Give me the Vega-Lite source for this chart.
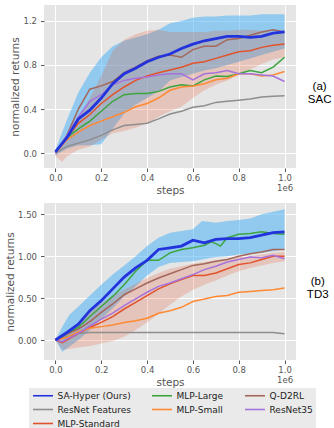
{
"$schema": "https://vega.github.io/schema/vega-lite/v6.json",
"padding": {"left": 5, "top": 5, "right": 0, "bottom": 0},
"background": "white",
"config": {
  "font": "DejaVu Sans",
  "view": {"fill": "#e5e5e5", "stroke": null},
  "axis": {"domain": false, "grid": true, "gridColor": "white", "gridWidth": 1, "tickColor": "#555555", "tickSize": 3.5, "labelColor": "#555555", "labelFontSize": 8.5, "titleColor": "#555555", "titleFontSize": 10.5, "titleFontWeight": "normal", "labelFont": "DejaVu Sans", "titleFont": "DejaVu Sans"},
  "title": {"font": "Liberation Sans", "fontSize": 11.5, "fontWeight": "normal", "color": "black"}
},
"datasets": {
"sac_lines": [
{"method":"SA-Hyper (Ours)","step":0,"value":0.01},{"method":"SA-Hyper (Ours)","step":50000,"value":0.14},{"method":"SA-Hyper (Ours)","step":100000,"value":0.31},{"method":"SA-Hyper (Ours)","step":150000,"value":0.39},{"method":"SA-Hyper (Ours)","step":200000,"value":0.50},{"method":"SA-Hyper (Ours)","step":250000,"value":0.63},{"method":"SA-Hyper (Ours)","step":300000,"value":0.72},{"method":"SA-Hyper (Ours)","step":350000,"value":0.77},{"method":"SA-Hyper (Ours)","step":400000,"value":0.83},{"method":"SA-Hyper (Ours)","step":450000,"value":0.87},{"method":"SA-Hyper (Ours)","step":500000,"value":0.90},{"method":"SA-Hyper (Ours)","step":550000,"value":0.95},{"method":"SA-Hyper (Ours)","step":600000,"value":0.99},{"method":"SA-Hyper (Ours)","step":650000,"value":1.02},{"method":"SA-Hyper (Ours)","step":700000,"value":1.04},{"method":"SA-Hyper (Ours)","step":750000,"value":1.06},{"method":"SA-Hyper (Ours)","step":800000,"value":1.06},{"method":"SA-Hyper (Ours)","step":850000,"value":1.05},{"method":"SA-Hyper (Ours)","step":900000,"value":1.06},{"method":"SA-Hyper (Ours)","step":950000,"value":1.09},{"method":"SA-Hyper (Ours)","step":1000000,"value":1.10},
{"method":"ResNet Features","step":0,"value":0.0},{"method":"ResNet Features","step":50000,"value":0.06},{"method":"ResNet Features","step":100000,"value":0.09},{"method":"ResNet Features","step":150000,"value":0.12},{"method":"ResNet Features","step":200000,"value":0.16},{"method":"ResNet Features","step":250000,"value":0.21},{"method":"ResNet Features","step":300000,"value":0.25},{"method":"ResNet Features","step":350000,"value":0.26},{"method":"ResNet Features","step":400000,"value":0.27},{"method":"ResNet Features","step":450000,"value":0.31},{"method":"ResNet Features","step":500000,"value":0.355},{"method":"ResNet Features","step":550000,"value":0.38},{"method":"ResNet Features","step":600000,"value":0.415},{"method":"ResNet Features","step":650000,"value":0.43},{"method":"ResNet Features","step":700000,"value":0.46},{"method":"ResNet Features","step":750000,"value":0.47},{"method":"ResNet Features","step":800000,"value":0.48},{"method":"ResNet Features","step":850000,"value":0.49},{"method":"ResNet Features","step":900000,"value":0.51},{"method":"ResNet Features","step":950000,"value":0.515},{"method":"ResNet Features","step":1000000,"value":0.52},
{"method":"MLP-Standard","step":0,"value":0.0},{"method":"MLP-Standard","step":50000,"value":0.14},{"method":"MLP-Standard","step":100000,"value":0.27},{"method":"MLP-Standard","step":150000,"value":0.35},{"method":"MLP-Standard","step":200000,"value":0.45},{"method":"MLP-Standard","step":250000,"value":0.53},{"method":"MLP-Standard","step":300000,"value":0.60},{"method":"MLP-Standard","step":350000,"value":0.66},{"method":"MLP-Standard","step":400000,"value":0.70},{"method":"MLP-Standard","step":450000,"value":0.73},{"method":"MLP-Standard","step":500000,"value":0.755},{"method":"MLP-Standard","step":550000,"value":0.78},{"method":"MLP-Standard","step":600000,"value":0.815},{"method":"MLP-Standard","step":650000,"value":0.83},{"method":"MLP-Standard","step":700000,"value":0.86},{"method":"MLP-Standard","step":750000,"value":0.89},{"method":"MLP-Standard","step":800000,"value":0.92},{"method":"MLP-Standard","step":850000,"value":0.93},{"method":"MLP-Standard","step":900000,"value":0.96},{"method":"MLP-Standard","step":950000,"value":0.98},{"method":"MLP-Standard","step":1000000,"value":0.99},
{"method":"MLP-Large","step":0,"value":0.0},{"method":"MLP-Large","step":50000,"value":0.14},{"method":"MLP-Large","step":100000,"value":0.22},{"method":"MLP-Large","step":150000,"value":0.29},{"method":"MLP-Large","step":200000,"value":0.38},{"method":"MLP-Large","step":250000,"value":0.47},{"method":"MLP-Large","step":300000,"value":0.53},{"method":"MLP-Large","step":350000,"value":0.54},{"method":"MLP-Large","step":400000,"value":0.54},{"method":"MLP-Large","step":450000,"value":0.56},{"method":"MLP-Large","step":500000,"value":0.60},{"method":"MLP-Large","step":550000,"value":0.62},{"method":"MLP-Large","step":600000,"value":0.61},{"method":"MLP-Large","step":650000,"value":0.665},{"method":"MLP-Large","step":700000,"value":0.70},{"method":"MLP-Large","step":750000,"value":0.695},{"method":"MLP-Large","step":800000,"value":0.72},{"method":"MLP-Large","step":850000,"value":0.75},{"method":"MLP-Large","step":900000,"value":0.73},{"method":"MLP-Large","step":950000,"value":0.78},{"method":"MLP-Large","step":1000000,"value":0.87},
{"method":"MLP-Small","step":0,"value":0.0},{"method":"MLP-Small","step":50000,"value":0.12},{"method":"MLP-Small","step":100000,"value":0.19},{"method":"MLP-Small","step":150000,"value":0.25},{"method":"MLP-Small","step":200000,"value":0.29},{"method":"MLP-Small","step":250000,"value":0.33},{"method":"MLP-Small","step":300000,"value":0.37},{"method":"MLP-Small","step":350000,"value":0.42},{"method":"MLP-Small","step":400000,"value":0.45},{"method":"MLP-Small","step":450000,"value":0.50},{"method":"MLP-Small","step":500000,"value":0.57},{"method":"MLP-Small","step":550000,"value":0.60},{"method":"MLP-Small","step":600000,"value":0.61},{"method":"MLP-Small","step":650000,"value":0.63},{"method":"MLP-Small","step":700000,"value":0.665},{"method":"MLP-Small","step":750000,"value":0.68},{"method":"MLP-Small","step":800000,"value":0.72},{"method":"MLP-Small","step":850000,"value":0.72},{"method":"MLP-Small","step":900000,"value":0.70},{"method":"MLP-Small","step":950000,"value":0.71},{"method":"MLP-Small","step":1000000,"value":0.74},
{"method":"Q-D2RL","step":0,"value":0.0},{"method":"Q-D2RL","step":50000,"value":0.16},{"method":"Q-D2RL","step":100000,"value":0.40},{"method":"Q-D2RL","step":150000,"value":0.58},{"method":"Q-D2RL","step":200000,"value":0.61},{"method":"Q-D2RL","step":250000,"value":0.65},{"method":"Q-D2RL","step":300000,"value":0.73},{"method":"Q-D2RL","step":350000,"value":0.78},{"method":"Q-D2RL","step":400000,"value":0.84},{"method":"Q-D2RL","step":450000,"value":0.88},{"method":"Q-D2RL","step":500000,"value":0.89},{"method":"Q-D2RL","step":550000,"value":0.87},{"method":"Q-D2RL","step":600000,"value":0.94},{"method":"Q-D2RL","step":650000,"value":0.97},{"method":"Q-D2RL","step":700000,"value":0.97},{"method":"Q-D2RL","step":750000,"value":1.03},{"method":"Q-D2RL","step":800000,"value":1.04},{"method":"Q-D2RL","step":850000,"value":1.07},{"method":"Q-D2RL","step":900000,"value":1.10},{"method":"Q-D2RL","step":950000,"value":1.12},{"method":"Q-D2RL","step":1000000,"value":1.10},
{"method":"ResNet35","step":0,"value":0.0},{"method":"ResNet35","step":50000,"value":0.16},{"method":"ResNet35","step":100000,"value":0.33},{"method":"ResNet35","step":150000,"value":0.47},{"method":"ResNet35","step":200000,"value":0.53},{"method":"ResNet35","step":250000,"value":0.62},{"method":"ResNet35","step":300000,"value":0.66},{"method":"ResNet35","step":350000,"value":0.68},{"method":"ResNet35","step":400000,"value":0.69},{"method":"ResNet35","step":450000,"value":0.71},{"method":"ResNet35","step":500000,"value":0.72},{"method":"ResNet35","step":550000,"value":0.72},{"method":"ResNet35","step":600000,"value":0.665},{"method":"ResNet35","step":650000,"value":0.72},{"method":"ResNet35","step":700000,"value":0.73},{"method":"ResNet35","step":750000,"value":0.75},{"method":"ResNet35","step":800000,"value":0.72},{"method":"ResNet35","step":850000,"value":0.72},{"method":"ResNet35","step":900000,"value":0.71},{"method":"ResNet35","step":950000,"value":0.70},{"method":"ResNet35","step":1000000,"value":0.65}
],
"td3_lines": [
{"method":"SA-Hyper (Ours)","step":0,"value":0.0},{"method":"SA-Hyper (Ours)","step":50000,"value":0.09},{"method":"SA-Hyper (Ours)","step":100000,"value":0.19},{"method":"SA-Hyper (Ours)","step":150000,"value":0.35},{"method":"SA-Hyper (Ours)","step":200000,"value":0.47},{"method":"SA-Hyper (Ours)","step":250000,"value":0.61},{"method":"SA-Hyper (Ours)","step":300000,"value":0.75},{"method":"SA-Hyper (Ours)","step":350000,"value":0.86},{"method":"SA-Hyper (Ours)","step":400000,"value":0.95},{"method":"SA-Hyper (Ours)","step":450000,"value":1.08},{"method":"SA-Hyper (Ours)","step":500000,"value":1.10},{"method":"SA-Hyper (Ours)","step":550000,"value":1.12},{"method":"SA-Hyper (Ours)","step":600000,"value":1.19},{"method":"SA-Hyper (Ours)","step":650000,"value":1.16},{"method":"SA-Hyper (Ours)","step":700000,"value":1.20},{"method":"SA-Hyper (Ours)","step":750000,"value":1.21},{"method":"SA-Hyper (Ours)","step":800000,"value":1.21},{"method":"SA-Hyper (Ours)","step":850000,"value":1.22},{"method":"SA-Hyper (Ours)","step":900000,"value":1.25},{"method":"SA-Hyper (Ours)","step":950000,"value":1.28},{"method":"SA-Hyper (Ours)","step":1000000,"value":1.29},
{"method":"ResNet Features","step":0,"value":0.0},{"method":"ResNet Features","step":50000,"value":0.04},{"method":"ResNet Features","step":100000,"value":0.08},{"method":"ResNet Features","step":150000,"value":0.09},{"method":"ResNet Features","step":200000,"value":0.09},{"method":"ResNet Features","step":300000,"value":0.09},{"method":"ResNet Features","step":400000,"value":0.09},{"method":"ResNet Features","step":500000,"value":0.09},{"method":"ResNet Features","step":600000,"value":0.09},{"method":"ResNet Features","step":700000,"value":0.09},{"method":"ResNet Features","step":800000,"value":0.09},{"method":"ResNet Features","step":900000,"value":0.09},{"method":"ResNet Features","step":950000,"value":0.09},{"method":"ResNet Features","step":1000000,"value":0.075},
{"method":"MLP-Standard","step":0,"value":0.0},{"method":"MLP-Standard","step":30000,"value":-0.03},{"method":"MLP-Standard","step":50000,"value":0.0},{"method":"MLP-Standard","step":100000,"value":0.08},{"method":"MLP-Standard","step":150000,"value":0.15},{"method":"MLP-Standard","step":200000,"value":0.21},{"method":"MLP-Standard","step":250000,"value":0.28},{"method":"MLP-Standard","step":300000,"value":0.37},{"method":"MLP-Standard","step":350000,"value":0.45},{"method":"MLP-Standard","step":400000,"value":0.53},{"method":"MLP-Standard","step":450000,"value":0.61},{"method":"MLP-Standard","step":500000,"value":0.67},{"method":"MLP-Standard","step":550000,"value":0.72},{"method":"MLP-Standard","step":600000,"value":0.77},{"method":"MLP-Standard","step":650000,"value":0.77},{"method":"MLP-Standard","step":700000,"value":0.80},{"method":"MLP-Standard","step":750000,"value":0.85},{"method":"MLP-Standard","step":800000,"value":0.90},{"method":"MLP-Standard","step":850000,"value":0.92},{"method":"MLP-Standard","step":900000,"value":0.96},{"method":"MLP-Standard","step":950000,"value":1.0},{"method":"MLP-Standard","step":1000000,"value":1.0},
{"method":"MLP-Large","step":0,"value":0.0},{"method":"MLP-Large","step":50000,"value":0.07},{"method":"MLP-Large","step":100000,"value":0.15},{"method":"MLP-Large","step":150000,"value":0.28},{"method":"MLP-Large","step":200000,"value":0.40},{"method":"MLP-Large","step":250000,"value":0.52},{"method":"MLP-Large","step":300000,"value":0.66},{"method":"MLP-Large","step":350000,"value":0.82},{"method":"MLP-Large","step":400000,"value":0.95},{"method":"MLP-Large","step":450000,"value":0.95},{"method":"MLP-Large","step":500000,"value":1.04},{"method":"MLP-Large","step":550000,"value":1.08},{"method":"MLP-Large","step":600000,"value":1.10},{"method":"MLP-Large","step":650000,"value":1.13},{"method":"MLP-Large","step":680000,"value":1.17},{"method":"MLP-Large","step":700000,"value":1.15},{"method":"MLP-Large","step":720000,"value":1.12},{"method":"MLP-Large","step":750000,"value":1.22},{"method":"MLP-Large","step":800000,"value":1.26},{"method":"MLP-Large","step":850000,"value":1.27},{"method":"MLP-Large","step":900000,"value":1.29},{"method":"MLP-Large","step":950000,"value":1.27},{"method":"MLP-Large","step":1000000,"value":1.26},
{"method":"MLP-Small","step":0,"value":0.0},{"method":"MLP-Small","step":50000,"value":0.03},{"method":"MLP-Small","step":100000,"value":0.10},{"method":"MLP-Small","step":150000,"value":0.14},{"method":"MLP-Small","step":200000,"value":0.16},{"method":"MLP-Small","step":250000,"value":0.18},{"method":"MLP-Small","step":300000,"value":0.21},{"method":"MLP-Small","step":350000,"value":0.23},{"method":"MLP-Small","step":400000,"value":0.26},{"method":"MLP-Small","step":450000,"value":0.32},{"method":"MLP-Small","step":500000,"value":0.35},{"method":"MLP-Small","step":550000,"value":0.39},{"method":"MLP-Small","step":600000,"value":0.46},{"method":"MLP-Small","step":650000,"value":0.49},{"method":"MLP-Small","step":700000,"value":0.52},{"method":"MLP-Small","step":750000,"value":0.53},{"method":"MLP-Small","step":800000,"value":0.57},{"method":"MLP-Small","step":850000,"value":0.58},{"method":"MLP-Small","step":900000,"value":0.59},{"method":"MLP-Small","step":950000,"value":0.60},{"method":"MLP-Small","step":1000000,"value":0.62},
{"method":"Q-D2RL","step":0,"value":0.0},{"method":"Q-D2RL","step":50000,"value":0.07},{"method":"Q-D2RL","step":100000,"value":0.13},{"method":"Q-D2RL","step":150000,"value":0.22},{"method":"Q-D2RL","step":200000,"value":0.33},{"method":"Q-D2RL","step":250000,"value":0.43},{"method":"Q-D2RL","step":300000,"value":0.54},{"method":"Q-D2RL","step":350000,"value":0.61},{"method":"Q-D2RL","step":400000,"value":0.68},{"method":"Q-D2RL","step":450000,"value":0.74},{"method":"Q-D2RL","step":500000,"value":0.79},{"method":"Q-D2RL","step":550000,"value":0.84},{"method":"Q-D2RL","step":600000,"value":0.89},{"method":"Q-D2RL","step":650000,"value":0.91},{"method":"Q-D2RL","step":700000,"value":0.94},{"method":"Q-D2RL","step":750000,"value":0.96},{"method":"Q-D2RL","step":800000,"value":1.0},{"method":"Q-D2RL","step":850000,"value":1.03},{"method":"Q-D2RL","step":900000,"value":1.05},{"method":"Q-D2RL","step":950000,"value":1.08},{"method":"Q-D2RL","step":1000000,"value":1.08},
{"method":"ResNet35","step":0,"value":0.0},{"method":"ResNet35","step":30000,"value":-0.02},{"method":"ResNet35","step":50000,"value":0.01},{"method":"ResNet35","step":100000,"value":0.08},{"method":"ResNet35","step":150000,"value":0.17},{"method":"ResNet35","step":200000,"value":0.25},{"method":"ResNet35","step":250000,"value":0.32},{"method":"ResNet35","step":300000,"value":0.41},{"method":"ResNet35","step":350000,"value":0.49},{"method":"ResNet35","step":400000,"value":0.57},{"method":"ResNet35","step":450000,"value":0.64},{"method":"ResNet35","step":500000,"value":0.68},{"method":"ResNet35","step":550000,"value":0.73},{"method":"ResNet35","step":600000,"value":0.78},{"method":"ResNet35","step":650000,"value":0.84},{"method":"ResNet35","step":700000,"value":0.88},{"method":"ResNet35","step":750000,"value":0.93},{"method":"ResNet35","step":800000,"value":0.96},{"method":"ResNet35","step":850000,"value":0.99},{"method":"ResNet35","step":900000,"value":0.98},{"method":"ResNet35","step":950000,"value":1.01},{"method":"ResNet35","step":1000000,"value":0.97}
],
"sac_bands": [
{"method":"SA-Hyper (Ours)","step":0,"lower":-0.02,"upper":0.03},{"method":"SA-Hyper (Ours)","step":50000,"lower":0.04,"upper":0.30},{"method":"SA-Hyper (Ours)","step":100000,"lower":0.07,"upper":0.55},{"method":"SA-Hyper (Ours)","step":150000,"lower":0.07,"upper":0.73},{"method":"SA-Hyper (Ours)","step":200000,"lower":0.08,"upper":0.87},{"method":"SA-Hyper (Ours)","step":250000,"lower":0.22,"upper":0.97},{"method":"SA-Hyper (Ours)","step":300000,"lower":0.36,"upper":1.02},{"method":"SA-Hyper (Ours)","step":350000,"lower":0.44,"upper":1.05},{"method":"SA-Hyper (Ours)","step":400000,"lower":0.50,"upper":1.08},{"method":"SA-Hyper (Ours)","step":450000,"lower":0.56,"upper":1.12},{"method":"SA-Hyper (Ours)","step":500000,"lower":0.66,"upper":1.18},{"method":"SA-Hyper (Ours)","step":550000,"lower":0.69,"upper":1.20},{"method":"SA-Hyper (Ours)","step":600000,"lower":0.72,"upper":1.23},{"method":"SA-Hyper (Ours)","step":650000,"lower":0.75,"upper":1.24},{"method":"SA-Hyper (Ours)","step":700000,"lower":0.77,"upper":1.24},{"method":"SA-Hyper (Ours)","step":750000,"lower":0.80,"upper":1.25},{"method":"SA-Hyper (Ours)","step":800000,"lower":0.83,"upper":1.25},{"method":"SA-Hyper (Ours)","step":850000,"lower":0.86,"upper":1.25},{"method":"SA-Hyper (Ours)","step":900000,"lower":0.89,"upper":1.26},{"method":"SA-Hyper (Ours)","step":950000,"lower":0.92,"upper":1.26},{"method":"SA-Hyper (Ours)","step":1000000,"lower":0.95,"upper":1.26},
{"method":"MLP-Standard","step":0,"lower":-0.03,"upper":0.02},{"method":"MLP-Standard","step":30000,"lower":-0.08,"upper":0.10},{"method":"MLP-Standard","step":50000,"lower":-0.03,"upper":0.18},{"method":"MLP-Standard","step":100000,"lower":0.03,"upper":0.32},{"method":"MLP-Standard","step":150000,"lower":0.06,"upper":0.50},{"method":"MLP-Standard","step":200000,"lower":0.12,"upper":0.70},{"method":"MLP-Standard","step":250000,"lower":0.18,"upper":0.93},{"method":"MLP-Standard","step":300000,"lower":0.20,"upper":1.03},{"method":"MLP-Standard","step":350000,"lower":0.23,"upper":1.08},{"method":"MLP-Standard","step":400000,"lower":0.27,"upper":1.11},{"method":"MLP-Standard","step":450000,"lower":0.33,"upper":1.12},{"method":"MLP-Standard","step":500000,"lower":0.38,"upper":1.10},{"method":"MLP-Standard","step":550000,"lower":0.42,"upper":1.10},{"method":"MLP-Standard","step":600000,"lower":0.50,"upper":1.10},{"method":"MLP-Standard","step":650000,"lower":0.57,"upper":1.10},{"method":"MLP-Standard","step":700000,"lower":0.62,"upper":1.11},{"method":"MLP-Standard","step":750000,"lower":0.66,"upper":1.11},{"method":"MLP-Standard","step":800000,"lower":0.71,"upper":1.12},{"method":"MLP-Standard","step":850000,"lower":0.76,"upper":1.12},{"method":"MLP-Standard","step":900000,"lower":0.81,"upper":1.11},{"method":"MLP-Standard","step":950000,"lower":0.85,"upper":1.10},{"method":"MLP-Standard","step":1000000,"lower":0.87,"upper":1.10}
],
"td3_bands": [
{"method":"SA-Hyper (Ours)","step":0,"lower":0.0,"upper":0.0},{"method":"SA-Hyper (Ours)","step":30000,"lower":-0.14,"upper":0.16},{"method":"SA-Hyper (Ours)","step":60000,"lower":-0.08,"upper":0.30},{"method":"SA-Hyper (Ours)","step":100000,"lower":0.0,"upper":0.40},{"method":"SA-Hyper (Ours)","step":150000,"lower":0.12,"upper":0.53},{"method":"SA-Hyper (Ours)","step":200000,"lower":0.25,"upper":0.66},{"method":"SA-Hyper (Ours)","step":250000,"lower":0.38,"upper":0.78},{"method":"SA-Hyper (Ours)","step":300000,"lower":0.52,"upper":0.89},{"method":"SA-Hyper (Ours)","step":350000,"lower":0.64,"upper":1.0},{"method":"SA-Hyper (Ours)","step":400000,"lower":0.77,"upper":1.12},{"method":"SA-Hyper (Ours)","step":450000,"lower":0.87,"upper":1.22},{"method":"SA-Hyper (Ours)","step":500000,"lower":0.92,"upper":1.28},{"method":"SA-Hyper (Ours)","step":550000,"lower":0.93,"upper":1.30},{"method":"SA-Hyper (Ours)","step":600000,"lower":0.94,"upper":1.32},{"method":"SA-Hyper (Ours)","step":640000,"lower":0.96,"upper":1.42},{"method":"SA-Hyper (Ours)","step":700000,"lower":0.99,"upper":1.40},{"method":"SA-Hyper (Ours)","step":750000,"lower":1.0,"upper":1.42},{"method":"SA-Hyper (Ours)","step":800000,"lower":1.02,"upper":1.43},{"method":"SA-Hyper (Ours)","step":850000,"lower":1.03,"upper":1.45},{"method":"SA-Hyper (Ours)","step":900000,"lower":1.04,"upper":1.50},{"method":"SA-Hyper (Ours)","step":950000,"lower":1.06,"upper":1.53},{"method":"SA-Hyper (Ours)","step":1000000,"lower":1.08,"upper":1.56},
{"method":"MLP-Standard","step":0,"lower":0.0,"upper":0.0},{"method":"MLP-Standard","step":30000,"lower":-0.11,"upper":0.03},{"method":"MLP-Standard","step":50000,"lower":-0.11,"upper":0.06},{"method":"MLP-Standard","step":100000,"lower":-0.09,"upper":0.18},{"method":"MLP-Standard","step":150000,"lower":-0.07,"upper":0.33},{"method":"MLP-Standard","step":200000,"lower":-0.04,"upper":0.44},{"method":"MLP-Standard","step":250000,"lower":-0.01,"upper":0.53},{"method":"MLP-Standard","step":300000,"lower":0.04,"upper":0.60},{"method":"MLP-Standard","step":350000,"lower":0.12,"upper":0.67},{"method":"MLP-Standard","step":400000,"lower":0.21,"upper":0.74},{"method":"MLP-Standard","step":450000,"lower":0.31,"upper":0.80},{"method":"MLP-Standard","step":500000,"lower":0.42,"upper":0.85},{"method":"MLP-Standard","step":550000,"lower":0.52,"upper":0.88},{"method":"MLP-Standard","step":600000,"lower":0.60,"upper":0.91},{"method":"MLP-Standard","step":650000,"lower":0.66,"upper":0.93},{"method":"MLP-Standard","step":700000,"lower":0.71,"upper":0.95},{"method":"MLP-Standard","step":750000,"lower":0.77,"upper":0.97},{"method":"MLP-Standard","step":800000,"lower":0.82,"upper":0.99},{"method":"MLP-Standard","step":850000,"lower":0.86,"upper":1.00},{"method":"MLP-Standard","step":900000,"lower":0.89,"upper":1.02},{"method":"MLP-Standard","step":950000,"lower":0.92,"upper":1.04},{"method":"MLP-Standard","step":1000000,"lower":0.94,"upper":1.05}
]
},
"spacing": 7,
"vconcat": [
{
 "width": 252, "height": 163,
 "title": {"text": ["(a)", "SAC"], "orient": "right", "angle": 0, "anchor": "middle", "align": "center", "baseline": "middle", "offset": 0, "lineHeight": 13},
 "layer": [
  {"data": {"name": "sac_bands"}, "transform": [{"filter": "datum.method === 'SA-Hyper (Ours)'"}],
   "mark": {"type": "area", "color": "#4fb3f5", "opacity": 0.55, "clip": true},
   "encoding": {
    "x": {"field": "step", "type": "quantitative", "scale": {"domain": [-50000, 1050000], "nice": false, "zero": false}, "axis": {"values": [0,200000,400000,600000,800000,1000000], "labelExpr": "datum.value === 1000000 ? ['1.0', '1e6'] : format(datum.value / 1000000, '.1f')", "title": "steps", "titleY": 22, "titleBaseline": "middle", "labelPadding": 2, "labelLineHeight": 10, "labelFlush": false}},
    "y": {"field": "lower", "type": "quantitative", "scale": {"domain": [-0.136, 1.345], "nice": false, "zero": false}, "axis": {"values": [0,0.2,0.4,0.6,0.8,1.0,1.2], "format": ".1f", "title": "normalized returns", "titlePadding": 2, "labelPadding": 4}},
    "y2": {"field": "upper"}
   }},
  {"data": {"name": "sac_bands"}, "transform": [{"filter": "datum.method === 'MLP-Standard'"}],
   "mark": {"type": "area", "color": "#e2532b", "opacity": 0.22, "clip": true},
   "encoding": {
    "x": {"field": "step", "type": "quantitative"},
    "y": {"field": "lower", "type": "quantitative"},
    "y2": {"field": "upper"}
   }},
  {"data": {"name": "sac_lines"}, "transform": [{"filter": "datum.method !== 'SA-Hyper (Ours)'"}],
   "mark": {"type": "line", "strokeWidth": 1.5, "clip": true},
   "encoding": {
    "x": {"field": "step", "type": "quantitative"},
    "y": {"field": "value", "type": "quantitative"},
    "color": {"field": "method", "type": "nominal",
      "scale": {"domain": ["SA-Hyper (Ours)", "MLP-Large", "Q-D2RL", "ResNet Features", "MLP-Small", "ResNet35", "MLP-Standard"], "range": ["#2233dd", "#3da53d", "#a3675b", "#8e8e8e", "#ff8a33", "#a672dc", "#e2532b"]},
      "legend": {"orient": "none", "legendX": -15, "legendY": 383, "direction": "horizontal", "columns": 3, "title": null, "fillColor": "#eaeaea", "padding": 3, "rowPadding": 4, "columnPadding": 17, "labelFontSize": 9, "labelColor": "#222222", "labelFont": "DejaVu Sans", "symbolType": "M-1,0H4.714", "symbolSize": 49, "symbolStrokeWidth": 1.6, "labelOffset": 16.5, "gridAlign": "each"}}
   }},
  {"data": {"name": "sac_lines"}, "transform": [{"filter": "datum.method === 'SA-Hyper (Ours)'"}],
   "mark": {"type": "line", "strokeWidth": 2.8, "clip": true},
   "encoding": {
    "x": {"field": "step", "type": "quantitative"},
    "y": {"field": "value", "type": "quantitative"},
    "color": {"field": "method", "type": "nominal", "scale": {"domain": ["SA-Hyper (Ours)", "MLP-Large", "Q-D2RL", "ResNet Features", "MLP-Small", "ResNet35", "MLP-Standard"], "range": ["#2233dd", "#3da53d", "#a3675b", "#8e8e8e", "#ff8a33", "#a672dc", "#e2532b"]}}
   }}
 ]
},
{
 "width": 252, "height": 157,
 "title": {"text": ["(b)", "TD3"], "orient": "right", "angle": 0, "anchor": "middle", "align": "center", "baseline": "middle", "offset": 0, "lineHeight": 13},
 "layer": [
  {"data": {"name": "td3_bands"}, "transform": [{"filter": "datum.method === 'SA-Hyper (Ours)'"}],
   "mark": {"type": "area", "color": "#4fb3f5", "opacity": 0.55, "clip": true},
   "encoding": {
    "x": {"field": "step", "type": "quantitative", "scale": {"domain": [-50000, 1050000], "nice": false, "zero": false}, "axis": {"values": [0,200000,400000,600000,800000,1000000], "labelExpr": "datum.value === 1000000 ? ['1.0', '1e6'] : format(datum.value / 1000000, '.1f')", "title": "steps", "titleY": 22, "titleBaseline": "middle", "labelPadding": 2, "labelLineHeight": 10, "labelFlush": false}},
    "y": {"field": "lower", "type": "quantitative", "scale": {"domain": [-0.238, 1.634], "nice": false, "zero": false}, "axis": {"values": [0,0.25,0.5,0.75,1.0,1.25,1.5], "format": ".2f", "title": "normalized returns", "titlePadding": 2, "labelPadding": 4}},
    "y2": {"field": "upper"}
   }},
  {"data": {"name": "td3_bands"}, "transform": [{"filter": "datum.method === 'MLP-Standard'"}],
   "mark": {"type": "area", "color": "#e2532b", "opacity": 0.22, "clip": true},
   "encoding": {
    "x": {"field": "step", "type": "quantitative"},
    "y": {"field": "lower", "type": "quantitative"},
    "y2": {"field": "upper"}
   }},
  {"data": {"name": "td3_lines"}, "transform": [{"filter": "datum.method !== 'SA-Hyper (Ours)'"}],
   "mark": {"type": "line", "strokeWidth": 1.5, "clip": true},
   "encoding": {
    "x": {"field": "step", "type": "quantitative"},
    "y": {"field": "value", "type": "quantitative"},
    "color": {"field": "method", "type": "nominal", "scale": {"domain": ["SA-Hyper (Ours)", "MLP-Large", "Q-D2RL", "ResNet Features", "MLP-Small", "ResNet35", "MLP-Standard"], "range": ["#2233dd", "#3da53d", "#a3675b", "#8e8e8e", "#ff8a33", "#a672dc", "#e2532b"]}}
   }},
  {"data": {"name": "td3_lines"}, "transform": [{"filter": "datum.method === 'SA-Hyper (Ours)'"}],
   "mark": {"type": "line", "strokeWidth": 2.8, "clip": true},
   "encoding": {
    "x": {"field": "step", "type": "quantitative"},
    "y": {"field": "value", "type": "quantitative"},
    "color": {"field": "method", "type": "nominal", "scale": {"domain": ["SA-Hyper (Ours)", "MLP-Large", "Q-D2RL", "ResNet Features", "MLP-Small", "ResNet35", "MLP-Standard"], "range": ["#2233dd", "#3da53d", "#a3675b", "#8e8e8e", "#ff8a33", "#a672dc", "#e2532b"]}}
   }}
 ]
}
]
}
